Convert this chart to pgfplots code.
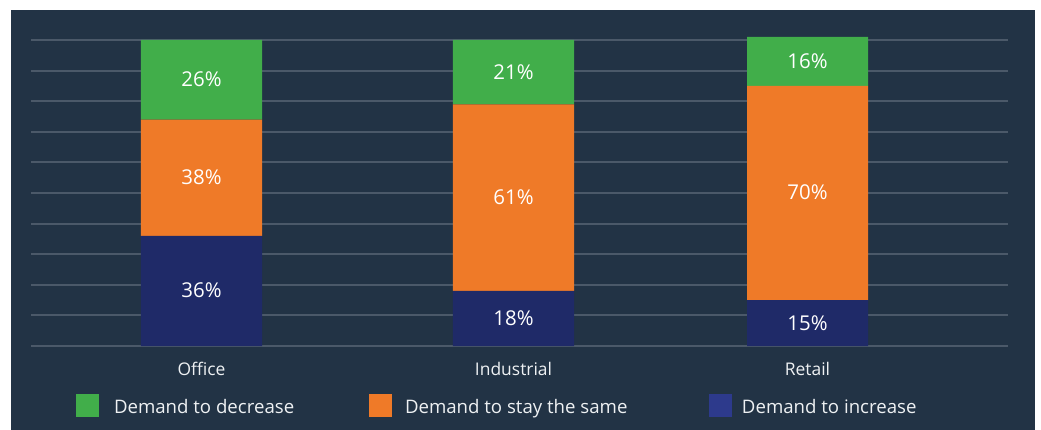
\documentclass[border=0pt]{standalone}
\usepackage{pgfplots}
\pgfplotsset{compat=1.18}
\usepackage{fontspec}
\setmainfont{Open Sans}
\definecolor{bg}{HTML}{223345}
\definecolor{gridc}{HTML}{4B5969}
\definecolor{cgreen}{HTML}{41AE4A}
\definecolor{corange}{HTML}{EF7A28}
\definecolor{cnavy}{HTML}{1F2A68}
\definecolor{cnavyleg}{HTML}{2D3A8C}
\definecolor{txt}{HTML}{EEF1F3}
\begin{document}
\begin{tikzpicture}
\fill[white] (-31bp,-84bp) rectangle (1010bp,346bp);
\fill[bg] (-20bp,-84bp) rectangle (1004bp,336bp);
\begin{axis}[
  x=1bp, y=3.06bp,
  xmin=31, xmax=1008, ymin=0, ymax=100,
  ybar stacked, bar width=121bp,
  axis line style={draw=none},
  major tick length=0pt,
  ytick={0,10,...,100}, yticklabels={},
  ymajorgrids, grid style={gridc, line width=2bp},
  xtick={201.5,513.5,807.5},
  xticklabels={Office,Industrial,Retail},
  xticklabel style={font=\fontsize{17.5}{20}\selectfont, text=txt, anchor=base, yshift=-29.3bp},
  legend columns=3,
  reverse legend,
  legend style={
    at={(axis cs:76,-19.44)}, anchor=west,
    draw=none, fill=none, inner sep=0pt, outer sep=0pt,
    font=\fontsize{18.7}{22}\selectfont, text=txt,
    nodes={inner sep=0pt},
    cells={anchor=base west},
    /tikz/column 1/.style={column sep=15bp},
    /tikz/column 3/.style={column sep=13bp},
    /tikz/column 5/.style={column sep=10bp},
  },
  legend image code/.code={\fill[#1] (0bp,-3.7bp) rectangle (23bp,19.3bp);},
  clip=false,
]
\addplot[fill=cnavy, draw=none, legend image post style={fill=cnavyleg}] coordinates {(201.5,36) (513.5,18) (807.5,15)};
\addlegendentry{Demand to increase}
\addplot[fill=corange, draw=none] coordinates {(201.5,38) (513.5,61) (807.5,70)};
\addlegendentry{\makebox[304bp][l]{Demand to stay the same}}
\addplot[fill=cgreen, draw=none] coordinates {(201.5,26) (513.5,21) (807.5,16)};
\addlegendentry{\makebox[255bp][l]{Demand to decrease}}
\end{axis}
\begin{axis}[
  x=1bp, y=3.06bp,
  xmin=31, xmax=1008, ymin=0, ymax=100,
  hide axis, clip=false,
]
\addplot[only marks, mark=*, mark size=0pt, mark options={draw=none, fill=none, opacity=0},
  nodes near coords, point meta=explicit symbolic,
  nodes near coords style={anchor=base, yshift=-7bp, font=\fontsize{20.5}{24}\selectfont, text=white, opacity=1}]
  coordinates {
  (201.5,18) [36\%] (201.5,55) [38\%] (201.5,87) [26\%]
  (513.5,9) [18\%] (513.5,48.5) [61\%] (513.5,89.5) [21\%]
  (807.5,7.5) [15\%] (807.5,50) [70\%] (807.5,93) [16\%]
  };
\end{axis}
\end{tikzpicture}
\end{document}
